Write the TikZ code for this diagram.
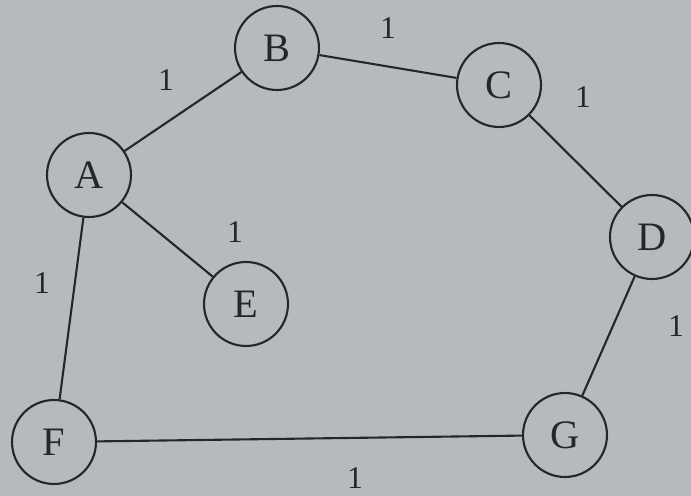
\documentclass[tikz,border=0pt]{standalone}
\usepackage{fontspec}
\setmainfont{Liberation Serif}
\usepackage{xcolor}
\usetikzlibrary{positioning}
\definecolor{paper}{HTML}{B6BABE}
\definecolor{ink}{HTML}{262626}

\begin{document}
\begin{tikzpicture}[x=0.02cm, y=-0.02cm]
        \fill[paper] (0,0) rectangle (691,496);
        \useasboundingbox (0,0) rectangle (691,496);
        \begin{scope}[every node/.style={draw=ink, 
            circle, 
            line width=1.2pt,
            text=ink, 
            minimum size=1.68cm,
            inner sep=0mm,
            font=\fontsize{23}{26}\selectfont}]
            \node at (89,175) (A) {A};
            \node at (277,48) (B) {B};
            \node at (499,85) (C) {C};
            \node at (652,237) (D) {D};
            \node at (246,304) (E) {E};
            \node at (54,442) (F) {F};
            \node at (565,435) (G) {G};
        \end{scope}
        \begin{scope}[every node/.style={text=ink, font=\fontsize{18}{20}\selectfont}]
            \node at (166,80) (wAB) {1};
            \node at (388,28) (wBC) {1};
            \node at (583,97) (wCD) {1};
            \node at (235,232) (wAE) {1};
            \node at (42,283) (wAF) {1};
            \node at (676,326) (wDG) {1};
            \node at (355,478) (wFG) {1};
        \end{scope}
        \draw[ink, line width=1.2pt] (A) -- (B);
        \draw[ink, line width=1.2pt] (B) -- (C);
        \draw[ink, line width=1.2pt] (C) -- (D);
        \draw[ink, line width=1.2pt] (D) -- (G);
        \draw[ink, line width=1.2pt] (G) -- (F);
        \draw[ink, line width=1.2pt] (F) -- (A);
        \draw[ink, line width=1.2pt] (A) -- (E);
    \end{tikzpicture}
\end{document}
